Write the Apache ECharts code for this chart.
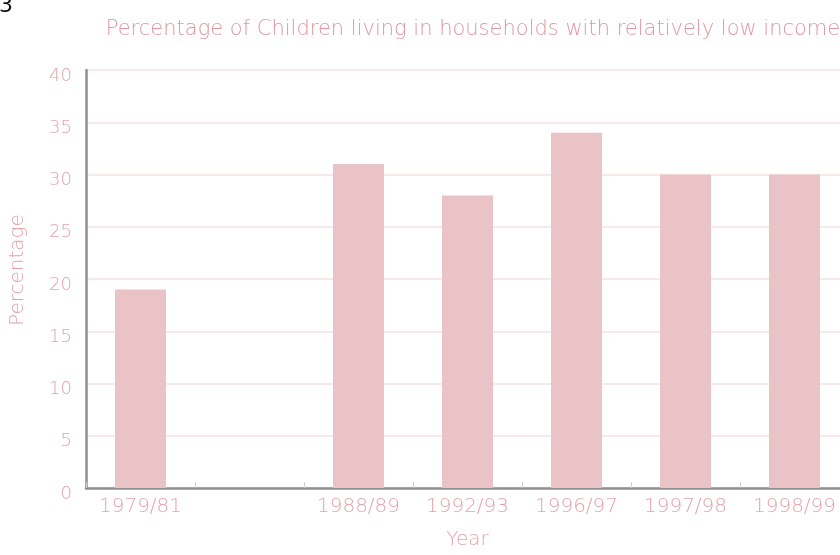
<!DOCTYPE html>
<html><head><meta charset="utf-8">
<script src="https://cdn.jsdelivr.net/npm/echarts@6/dist/echarts.min.js"></script>
<style>html,body{margin:0;padding:0;background:#fff;overflow:hidden}#c{width:850px;height:555px}</style>
</head><body><div id="c"></div>
<script>
const categories = ['1979/81', '', '1988/89', '1992/93', '1996/97', '1997/98', '1998/99'];
const values = [19, null, 31, 28, 34, 30, 30];
const yTicks = { min: 0, max: 40, interval: 5 };
const titleText = 'Percentage of Children living in households with relatively low income';

const pinkText = '#e4a3ab';
const FF = '"DejaVu Sans"';
const chart = echarts.init(document.getElementById('c'));
chart.setOption({
  backgroundColor: '#fff',
  animation: false,
  title: {
    text: titleText, left: 468, top: 14, textAlign: 'center',
    textStyle: { color: '#e097a1', fontSize: 21, fontWeight: 200, fontFamily: FF }
  },
  graphic: [{ type: 'text', left: -1, top: -5, style: { text: '3', fill: '#111', font: '22px "DejaVu Sans"' } }],
  grid: { left: 86, top: 70, right: 1, height: 423 },
  xAxis: {
    type: 'category', data: categories,
    name: 'Year', nameLocation: 'middle', nameGap: 42,
    nameTextStyle: { color: pinkText, fontSize: 20, fontWeight: 200, fontFamily: FF },
    axisLine: { lineStyle: { color: '#8f8f8f', width: 2.5 } },
    axisTick: { show: true, inside: true, length: 6, lineStyle: { color: '#cfcfcf' } },
    axisLabel: { color: pinkText, fontSize: 20, fontWeight: 200, fontFamily: FF, margin: 9 }
  },
  yAxis: {
    type: 'value', min: yTicks.min, max: yTicks.max, interval: yTicks.interval,
    name: 'Percentage', nameLocation: 'middle', nameGap: 58, nameRotate: 90,
    nameTextStyle: { color: pinkText, fontSize: 20, fontWeight: 200, fontFamily: FF, padding: [0, 0, 0, 18] },
    axisLine: { show: true, lineStyle: { color: '#8f8f8f', width: 2.5 } },
    axisTick: { show: false },
    axisLabel: { color: pinkText, fontSize: 18, fontWeight: 200, fontFamily: FF, margin: 14, verticalAlign: 'top', lineHeight: 12 },
    splitLine: { lineStyle: { color: '#f6e0e2', width: 1.5 } }
  },
  series: [{
    type: 'bar', data: values, barWidth: 51,
    itemStyle: { color: '#e9c3c5' }
  }]
});
</script></body></html>
